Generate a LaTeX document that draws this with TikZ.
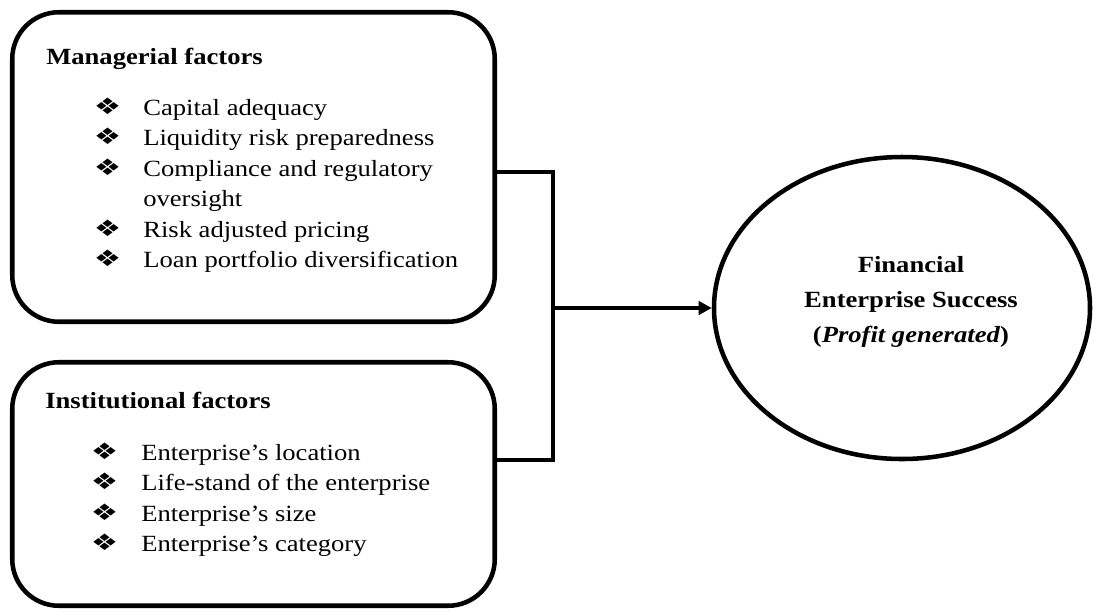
\documentclass[tikz,border=0pt]{standalone}
\usepackage{graphicx}
\usepackage{fontspec}
\setmainfont{Liberation Serif}
\newfontfamily\dejavu{DejaVu Sans}
\usetikzlibrary{arrows.meta,shapes.geometric,fit}
\newcommand{\hs}[1]{\scalebox{1.147}[1]{#1}}
\newcommand{\bul}{\scalebox{1.35}[1]{\dejavu\fontsize{17}{17}\selectfont ❖}}
\begin{document}
\begin{tikzpicture}[x=0.75pt,y=-0.75pt,
  box/.style={draw, line width=3.4pt, rounded corners=35pt, inner sep=0pt},
  conn/.style={line width=2.7pt},
  txt/.style={anchor=base west, inner sep=0pt, font=\fontsize{17.4}{20}\selectfont},
  head/.style={txt, font=\fontsize{17.4}{20}\selectfont\bfseries},
  bl/.style={anchor=base, inner sep=0pt},
  etxt/.style={anchor=base, inner sep=0pt, font=\fontsize{17.4}{20}\selectfont\bfseries}]
\useasboundingbox (0,0) rectangle (1096,612);
% boxes
\node[box, fit={(12.25,12.25) (494.75,321.75)}] (m) {};
\node[box, fit={(12.25,362.25) (494.75,605.75)}] (i) {};
\node[draw, ellipse, line width=3.4pt, inner sep=0pt, minimum width=282pt, minimum height=226.5pt] (f) at (902,308) {};
% managerial text
\node[head] (mh) at (46,64) {\hs{Managerial factors}};
\node[bl] (mb1) at (107.5,114) {\bul};
\node[txt] (mt1) at (143,115) {\hs{Capital adequacy}};
\node[bl] (mb2) at (107.5,144.5) {\bul};
\node[txt] (mt2) at (143,145.5) {\hs{Liquidity risk preparedness}};
\node[bl] (mb3) at (107.5,175) {\bul};
\node[txt] (mt3) at (143,176) {\hs{Compliance and regulatory}};
\node[txt] (mt3b) at (143,206.5) {\hs{oversight}};
\node[bl] (mb4) at (107.5,236) {\bul};
\node[txt] (mt4) at (143,237) {\hs{Risk adjusted pricing}};
\node[bl] (mb5) at (107.5,266.5) {\bul};
\node[txt] (mt5) at (143,267.5) {\hs{Loan portfolio diversification}};
% institutional text
\node[head] (ih) at (45,408) {\hs{Institutional factors}};
\node[bl] (ib1) at (104.5,459) {\bul};
\node[txt] (it1) at (141,460) {\hs{Enterprise’s location}};
\node[bl] (ib2) at (104.5,489.5) {\bul};
\node[txt] (it2) at (141,490.5) {\hs{Life-stand of the enterprise}};
\node[bl] (ib3) at (104.5,520) {\bul};
\node[txt] (it3) at (141,521) {\hs{Enterprise’s size}};
\node[bl] (ib4) at (104.5,550.5) {\bul};
\node[txt] (it4) at (141,551.5) {\hs{Enterprise’s category}};
% ellipse text
\node[etxt] (f1) at (911,272) {\hs{Financial}};
\node[etxt] (f2) at (911,307) {\hs{Enterprise Success}};
\node[etxt] (f3) at (911,342) {\hs{(\textit{Profit generated})}};
% connectors
\coordinate (j1) at (553,172);
\coordinate (j2) at (553,460);
\coordinate (j) at (553,308);
\draw[conn, line join=miter] (m.east |- j1) -- (j1) -- (j2) -- (i.east |- j2);
\draw[conn, -{Triangle[length=9.75pt,width=10pt]}] (j) -- (f.west);
\end{tikzpicture}
\end{document}
